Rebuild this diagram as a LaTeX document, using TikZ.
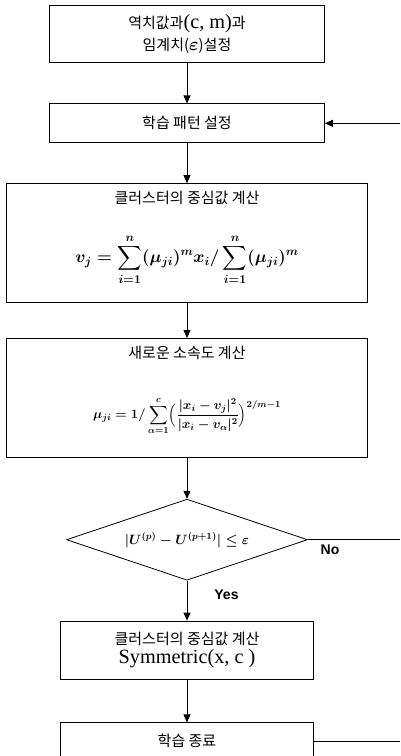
\RequirePackage{fix-cm}
\documentclass[tikz,border=0pt]{standalone}
\usepackage{amsmath,amssymb}
\usepackage{fontspec}
\setmainfont{Liberation Serif}
\newfontfamily\kr{Noto Sans CJK KR}
\newfontfamily\lat{Liberation Serif}[Scale=1.35]
\newfontfamily\yn{Liberation Sans}
\usepackage{tikz}
\usetikzlibrary{shapes.geometric,arrows.meta,positioning,calc}
\newcommand\eqcentroid{{\fontsize{17}{20}\selectfont\boldmath$\displaystyle
  v_j=\sum_{i=1}^{n}(\mu_{ji})^{m}x_i/\sum_{i=1}^{n}(\mu_{ji})^{m}$}}
\newcommand\eqmember{{\fontsize{13}{16}\selectfont\boldmath$\displaystyle
  \mu_{ji}=1/\sum_{\alpha=1}^{c}\Bigl(\frac{|x_i-v_j|^2}{|x_i-v_\alpha|^2}\Bigr)^{2/m-1}$}}
\newcommand\eqstop{{\fontsize{13.5}{16}\selectfont\boldmath$|U^{(p)}-U^{(p+1)}|\le\varepsilon$}}
\newcommand\epsmark{{\fontsize{18}{22}\selectfont\boldmath$\varepsilon$}}
\tikzset{
  stepbox/.style={rectangle,draw,line width=0.8pt,inner sep=0pt,
                  minimum width=275pt,minimum height=39pt,
                  align=center,font=\fontsize{15}{22}\kr},
  arr/.style={-{Triangle[length=8pt,width=7pt]},line width=0.8pt},
}

\begin{document}
\begin{tikzpicture}[
  x=1pt,y=-1pt,
  node distance=41pt,
  decide/.style={diamond,draw,line width=0.8pt,inner sep=0pt,aspect=3,
                 minimum width=241pt,minimum height=81pt},
  boxtitle/.style={inner sep=0pt,font=\fontsize{15}{22}\kr},
  eqn/.style={inner sep=0pt},
  yesno/.style={inner sep=0pt,font=\fontsize{14}{16}\yn\bfseries}
]
  \useasboundingbox (0,0) rectangle (400,756);
  \coordinate (rim) at (400,0);

  \node[stepbox,minimum height=57pt] (init) at (187,33.5)
    {역치값과{\lat(c, m)}과\\임계치(\epsmark)설정};
  \node[stepbox,below=of init] (pattern) {학습 패턴 설정};
  \node[stepbox,below=40pt of pattern,minimum width=361pt,minimum height=119pt] (centroid) {};
  \node[boxtitle,below=8pt of centroid.north] (centroidtxt) {클러스터의 중심값 계산};
  \node[eqn,below=29pt of centroidtxt] (centroideq) {\eqcentroid};
  \node[stepbox,below=35pt of centroid,minimum width=361pt,minimum height=119pt] (update) {};
  \node[boxtitle,below=8pt of update.north] (updatetxt) {새로운 소속도 계산};
  \node[eqn,below=37pt of updatetxt] (updateeq) {\eqmember};
  \node[decide,below=of update] (check) {\eqstop};
  \node[stepbox,below=40pt of check,minimum width=253pt,minimum height=58pt,
        font=\fontsize{15}{19}\kr] (result)
    {클러스터의 중심값 계산\\{\lat Symmetric(x, c )}};
  \node[stepbox,below=43pt of result,minimum width=253pt,minimum height=37pt] (done) {학습 종료};

  \draw[arr] (init) -- (pattern);
  \draw[arr] (pattern) -- (centroid);
  \draw[arr] (centroid) -- (update);
  \draw[arr] (update) -- (check);
  \draw[arr] (check) -- node[yesno,pos=0.35,right=27pt]{Yes} (result);
  \draw[arr] (result) -- (done);
  \draw[arr] (pattern.east -| rim) -- (pattern.east);
  \draw[line width=0.8pt] (check.east) -- node[yesno,pos=0.24,below=5pt]{No} (check.east -| rim);
  \draw[line width=0.8pt] (done.east) -- (done.east -| rim);
\end{tikzpicture}
\end{document}
